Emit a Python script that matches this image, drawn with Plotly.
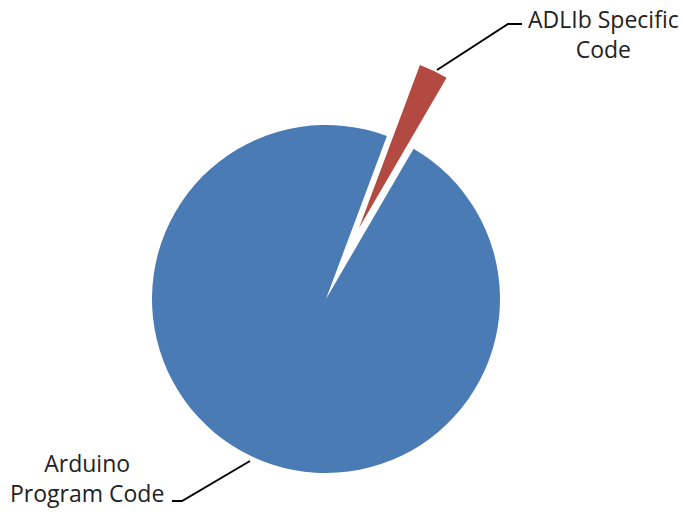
import plotly.graph_objects as go

labels = ["ADLIb Specific Code", "Arduino Program Code"]
values = [2.7, 97.3]
colors = ["#B24A42", "#4A7BB5"]

W, H = 683, 512

def dom(cx, cy, r):
    return dict(x=[(cx - r) / W, (cx + r) / W], y=[1 - (cy + r) / H, 1 - (cy - r) / H])

common = dict(labels=labels, values=values, sort=False, direction="clockwise",
              rotation=20.5, textinfo="none", hoverinfo="label+percent", showlegend=False)

fig = go.Figure()
# main pie (blue slice, gap where pulled slice was)
fig.add_trace(go.Pie(**common, domain=dom(326, 299, 174),
                     marker=dict(colors=["rgba(0,0,0,0)", colors[1]], line=dict(width=0))))
# exploded slice
fig.add_trace(go.Pie(**common, domain=dom(359, 228, 174),
                     marker=dict(colors=[colors[0], "rgba(0,0,0,0)"], line=dict(width=0))))

font = dict(family="Open Sans, sans-serif", size=23, color="#222222")
fig.add_annotation(x=603 / W, y=1 - 34 / H, xref="paper", yref="paper",
                   xanchor="center", yanchor="middle",
                   text="ADLIb Specific<br>Code", showarrow=False, font=font, align="center")
fig.add_annotation(x=87 / W, y=1 - 478 / H, xref="paper", yref="paper",
                   xanchor="center", yanchor="middle",
                   text="Arduino<br>Program Code", showarrow=False, font=font, align="center")

fig.add_shape(type="path", xref="paper", yref="paper",
              path=f"M {437/W} {1-70/H} L {508/W} {1-24/H} L {522/W} {1-24/H}",
              line=dict(color="black", width=2))
fig.add_shape(type="path", xref="paper", yref="paper",
              path=f"M {250/W} {1-461/H} L {182/W} {1-501/H} L {172/W} {1-501/H}",
              line=dict(color="black", width=2))

fig.update_layout(width=W, height=H, margin=dict(l=0, r=0, t=0, b=0),
                  paper_bgcolor="white", plot_bgcolor="white")
fig.write_html("out.html")
